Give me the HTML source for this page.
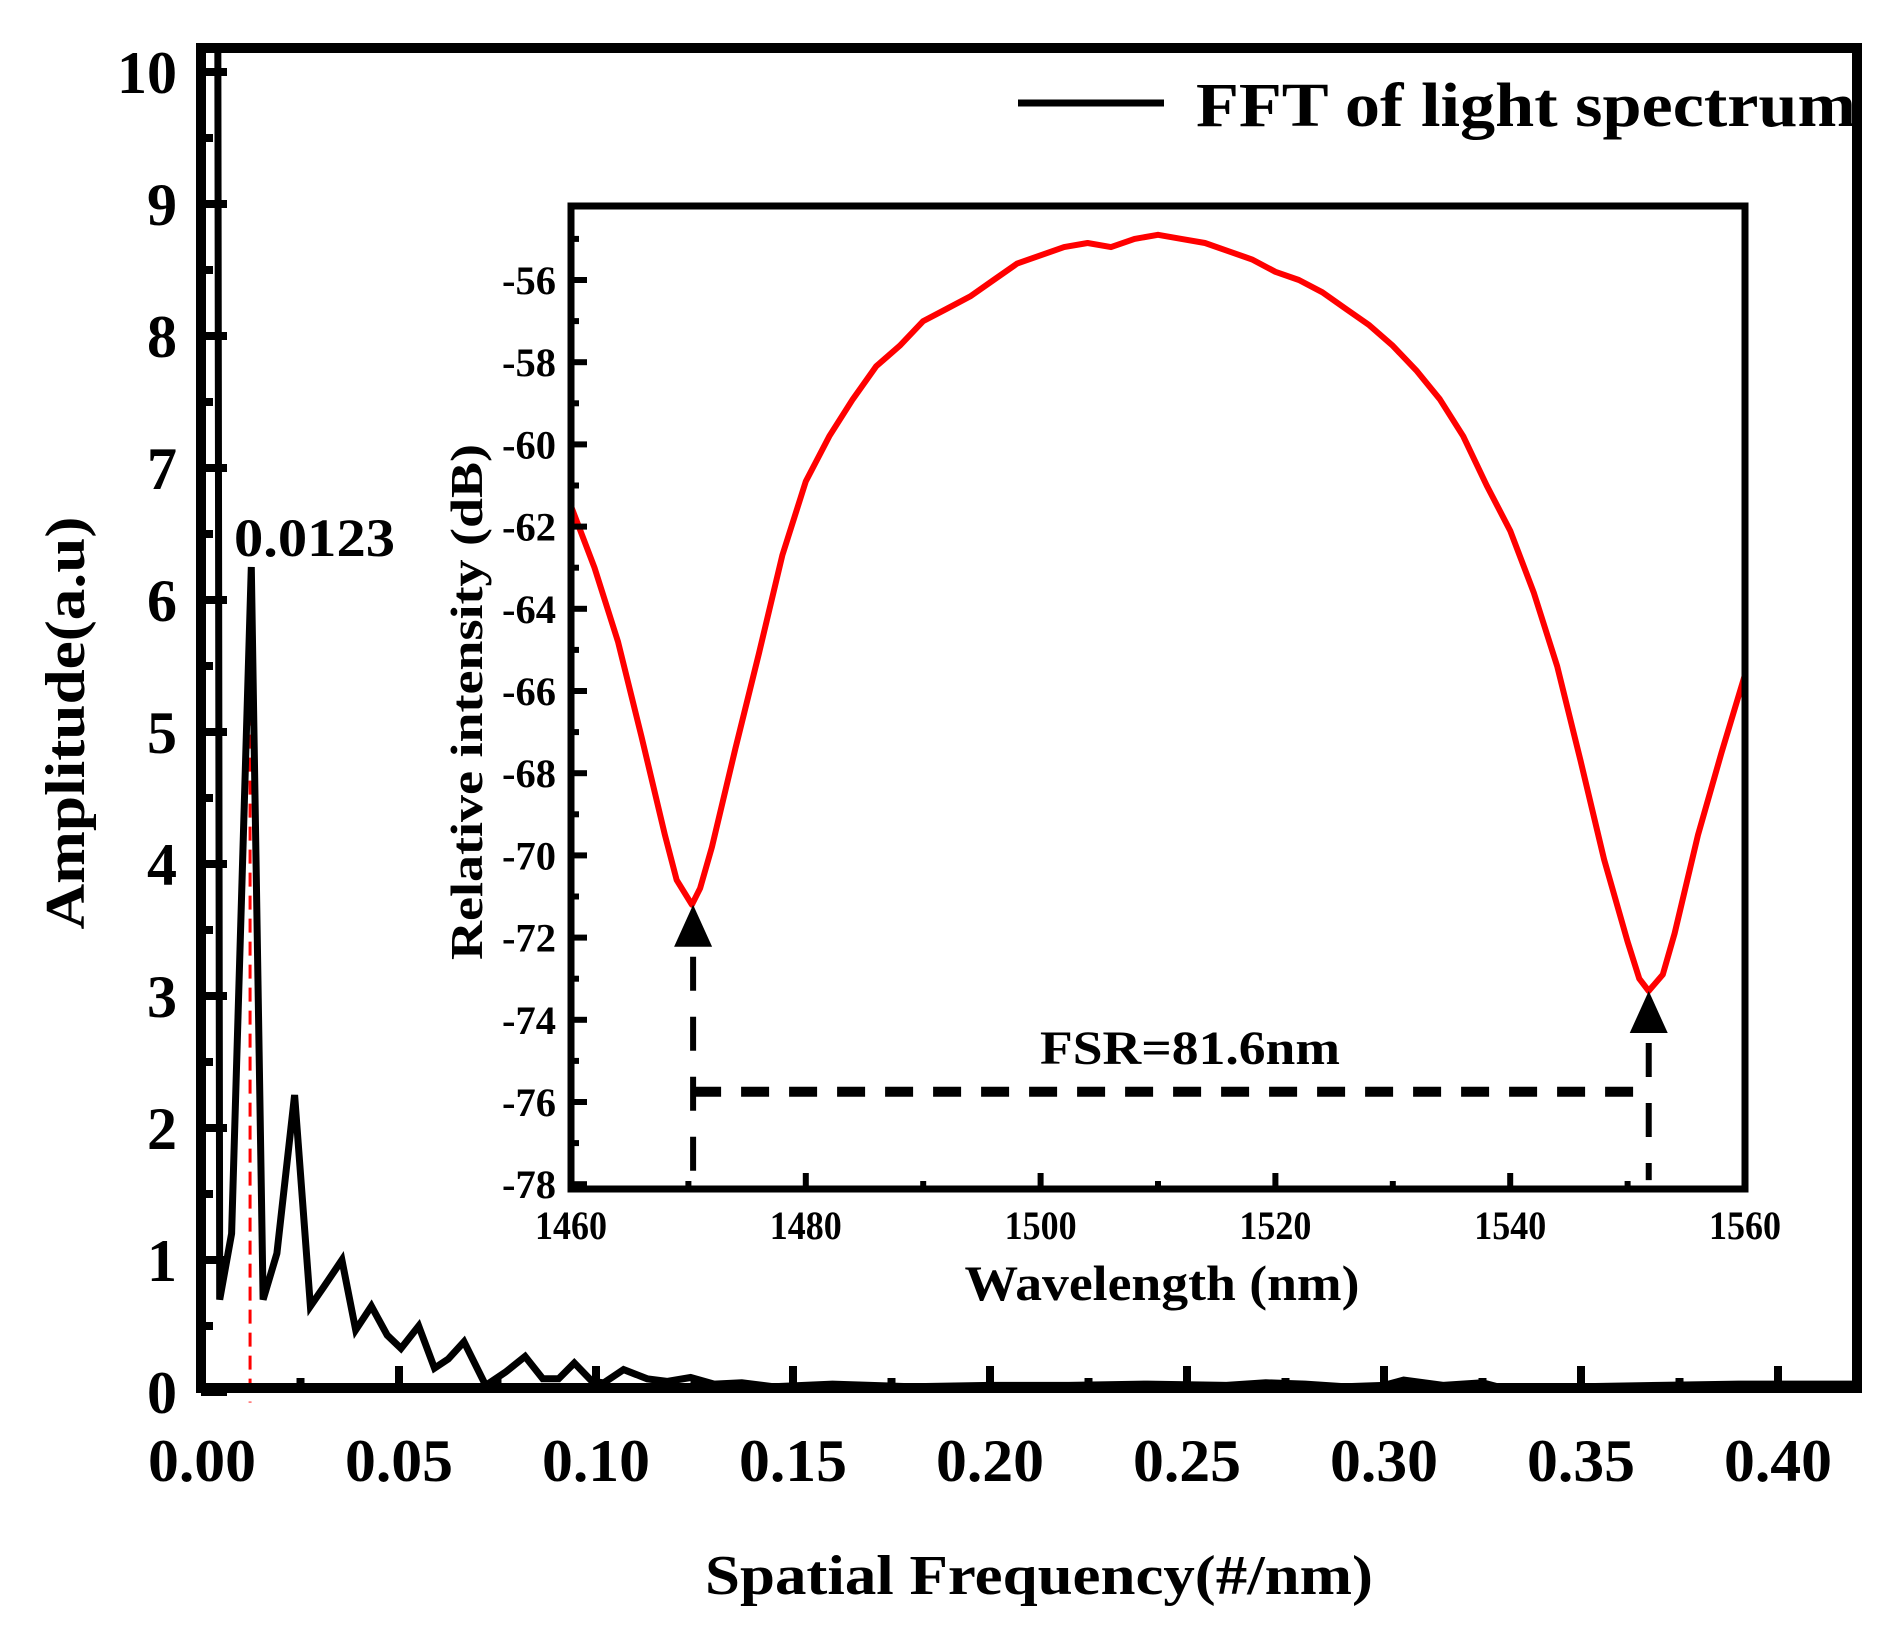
<!DOCTYPE html>
<html><head><meta charset="utf-8">
<style>
html,body{margin:0;padding:0;background:#fff;}
svg{display:block;font-family:"Liberation Serif","Times New Roman",serif;font-weight:bold;}
</style></head>
<body>
<svg id="chart" width="1895" height="1638" viewBox="0 0 1895 1638" xmlns="http://www.w3.org/2000/svg">
<rect x="0" y="0" width="1895" height="1638" fill="#fff"/>
<g id="main"></g>
<g id="inset"></g>
</svg>
<script>
// ---- main FFT data ----
const fftFreq = [0.004,0.0045,0.0075,0.0125,0.0155,0.019,0.0235,0.0275,0.031,0.0355,0.039,0.043,0.047,0.0505,0.055,0.059,0.0625,0.0665,0.072,0.077,0.082,0.0865,0.0905,0.0945,0.099,0.102,0.107,0.113,0.118,0.124,0.13,0.137,0.145,0.16,0.18,0.2,0.22,0.24,0.26,0.27,0.28,0.29,0.30,0.305,0.315,0.325,0.33,0.35,0.37,0.39,0.42];
const fftAmp = [10.4,0.7,1.2,6.25,0.7,1.05,2.25,0.65,0.8,1.0,0.47,0.65,0.43,0.33,0.5,0.18,0.25,0.38,0.05,0.15,0.27,0.1,0.1,0.22,0.08,0.07,0.17,0.1,0.08,0.11,0.06,0.07,0.04,0.06,0.04,0.05,0.05,0.06,0.05,0.07,0.06,0.04,0.05,0.09,0.05,0.07,0.03,0.04,0.05,0.06,0.06];
const xTickLabels = ["0.00","0.05","0.10","0.15","0.20","0.25","0.30","0.35","0.40"];
const yTickLabels = ["0","1","2","3","4","5","6","7","8","9","10"];
const peakFreq = [0.0122];
const peakAmp = [6.2];
// ---- inset spectrum data ----
const wl = [1460,1462,1464,1466,1468,1469,1470.3,1471,1472,1474,1476,1478,1480,1482,1484,1486,1488,1490,1492,1494,1496,1498,1500,1502,1504,1506,1508,1510,1512,1514,1516,1518,1520,1522,1524,1526,1528,1530,1532,1534,1536,1538,1540,1542,1544,1546,1548,1550,1551,1551.8,1553,1554,1556,1558,1560];
const dB = [-61.5,-63.0,-64.8,-67.1,-69.5,-70.6,-71.2,-70.8,-69.8,-67.4,-65.1,-62.7,-60.9,-59.8,-58.9,-58.1,-57.6,-57.0,-56.7,-56.4,-56.0,-55.6,-55.4,-55.2,-55.1,-55.2,-55.0,-54.9,-55.0,-55.1,-55.3,-55.5,-55.8,-56.0,-56.3,-56.7,-57.1,-57.6,-58.2,-58.9,-59.8,-61.0,-62.1,-63.6,-65.4,-67.7,-70.1,-72.1,-73.0,-73.3,-72.9,-71.9,-69.5,-67.5,-65.6];
const insetXTicks = ["1460","1480","1500","1520","1540","1560"];
const insetYTicks = ["-56","-58","-60","-62","-64","-66","-68","-70","-72","-74","-76","-78"];
const minWl = [1470.4,1551.8];
const minDb = [-71.2,-73.3];
const fsrLevel = [-75.75];

const NS="http://www.w3.org/2000/svg";
function mk(parent,tag,attrs,text){const e=document.createElementNS(NS,tag);for(const k in attrs)e.setAttribute(k,attrs[k]);if(text!==undefined)e.textContent=text;parent.appendChild(e);return e;}
const main=document.getElementById('main'), inset=document.getElementById('inset');

const X=f=>202+f*3940, Y=v=>1392-v*132;
const defs=mk(document.getElementById('chart'),'defs',{});
const cp=mk(defs,'clipPath',{id:'mclip'});mk(cp,'rect',{x:202,y:48,width:1655,height:1340});
const pl=mk(main,'line',{x1:X(peakFreq[0]),y1:Y(peakAmp[0]),x2:X(peakFreq[0]),y2:Y(-0.08),stroke:'#f00','stroke-width':3,'stroke-dasharray':'14 9'});


let d='';fftFreq.forEach((f,i)=>{d+=(i?'L':'M')+X(f).toFixed(1)+' '+Y(fftAmp[i]).toFixed(1);});
const fl=mk(main,'path',{d:d,fill:'none',stroke:'#000','stroke-width':7,'stroke-linejoin':'miter','clip-path':'url(#mclip)'});


const fr=mk(main,'rect',{x:201,y:48,width:1656,height:1340,fill:'none',stroke:'#000','stroke-width':10});


for(let i=0;i<=16;i++){const f=i*0.025;const len=i%2?10:22;
 const t=mk(main,'line',{x1:X(f),y1:1388,x2:X(f),y2:1388-len,stroke:'#000','stroke-width':8});
 
 }
xTickLabels.forEach((s,i)=>{const t=mk(main,'text',{x:X(i*0.05),y:1481,'font-size':60,'text-anchor':'middle',textLength:108,lengthAdjust:'spacingAndGlyphs'},s);
 
 });
for(let i=0;i<=20;i++){const v=i*0.5;const len=i%2?12:26;
 const t=mk(main,'line',{x1:201,y1:Y(v),x2:201+len,y2:Y(v),stroke:'#000','stroke-width':8});
 
 }
yTickLabels.forEach((s,i)=>{const t=mk(main,'text',{x:177,y:Y(i)+21,'font-size':60,'text-anchor':'end',textLength:s.length*30,lengthAdjust:'spacingAndGlyphs'},s);
 
 });
let t;
t=mk(main,'text',{x:0,y:0,'font-size':56,'text-anchor':'middle',transform:'translate(84,723) rotate(-90)',textLength:413,lengthAdjust:'spacingAndGlyphs'},'Amplitude(a.u)');

t=mk(main,'text',{x:1039,y:1594,'font-size':56,'text-anchor':'middle',textLength:668,lengthAdjust:'spacingAndGlyphs'},'Spatial Frequency(#/nm)');

t=mk(main,'text',{x:234,y:556,'font-size':54,textLength:161,lengthAdjust:'spacingAndGlyphs'},'0.0123');

t=mk(main,'line',{x1:1018,y1:103,x2:1164,y2:103,stroke:'#000','stroke-width':7});

t=mk(main,'text',{x:1196,y:126,'font-size':62,textLength:660,lengthAdjust:'spacingAndGlyphs'},'FFT of light spectrum');


// inset
const IX=w=>571+(w-1460)*11.74, IY=v=>280+(-56-v)*41.1;
mk(inset,'rect',{x:571,y:206,width:1174,height:983,fill:'#fff'});
const cp2=mk(defs,'clipPath',{id:'iclip'});mk(cp2,'rect',{x:571,y:206,width:1174,height:983});
let d2='';wl.forEach((w,i)=>{d2+=(i?'L':'M')+IX(w).toFixed(1)+' '+IY(dB[i]).toFixed(1);});
t=mk(inset,'path',{d:d2,fill:'none',stroke:'#f00','stroke-width':6,'stroke-linejoin':'round','clip-path':'url(#iclip)'});

minWl.forEach((w,i)=>{const x=IX(w),y=IY(minDb[i]);
 const tri=mk(inset,'polygon',{points:`${x},${y} ${x-19},${y+42} ${x+19},${y+42}`,fill:'#000'});
 
 
 const vl=mk(inset,'line',{x1:x,y1:y+52,x2:x,y2:IY(-77.9),stroke:'#000','stroke-width':6,'stroke-dasharray':'34 26'});
 
 });
t=mk(inset,'line',{x1:IX(minWl[0]),y1:IY(fsrLevel[0]),x2:IX(minWl[1]),y2:IY(fsrLevel[0]),stroke:'#000','stroke-width':10,'stroke-dasharray':'28 20'});

t=mk(inset,'text',{x:1190,y:1064,'font-size':48,'text-anchor':'middle',textLength:300,lengthAdjust:'spacingAndGlyphs'},'FSR=81.6nm');

t=mk(inset,'rect',{x:571,y:206,width:1174,height:983,fill:'none',stroke:'#000','stroke-width':7});

for(let w=1460;w<=1560;w+=10){const len=(w%20)?8:16;
 const k=mk(inset,'line',{x1:IX(w),y1:1189,x2:IX(w),y2:1189-len,stroke:'#000','stroke-width':6});
 
 }
insetXTicks.forEach((s,i)=>{const k=mk(inset,'text',{x:IX(1460+i*20),y:1239,'font-size':40,'text-anchor':'middle',textLength:72,lengthAdjust:'spacingAndGlyphs'},s);
 
 });
for(let v=-55;v>=-78;v--){const len=(v%2)?8:16;
 const k=mk(inset,'line',{x1:571,y1:IY(v),x2:571+len,y2:IY(v),stroke:'#000','stroke-width':6});
 
 }
insetYTicks.forEach((s,i)=>{const k=mk(inset,'text',{x:556,y:IY(-56-2*i)+14,'font-size':40,'text-anchor':'end',textLength:54,lengthAdjust:'spacingAndGlyphs'},s);
 
 });
t=mk(inset,'text',{x:1162,y:1300,'font-size':50,'text-anchor':'middle',textLength:395,lengthAdjust:'spacingAndGlyphs'},'Wavelength (nm)');

t=mk(inset,'text',{x:0,y:0,'font-size':46,'text-anchor':'middle',transform:'translate(482,702) rotate(-90)',textLength:516,lengthAdjust:'spacingAndGlyphs'},'Relative intensity (dB)');

</script>
</body></html>
